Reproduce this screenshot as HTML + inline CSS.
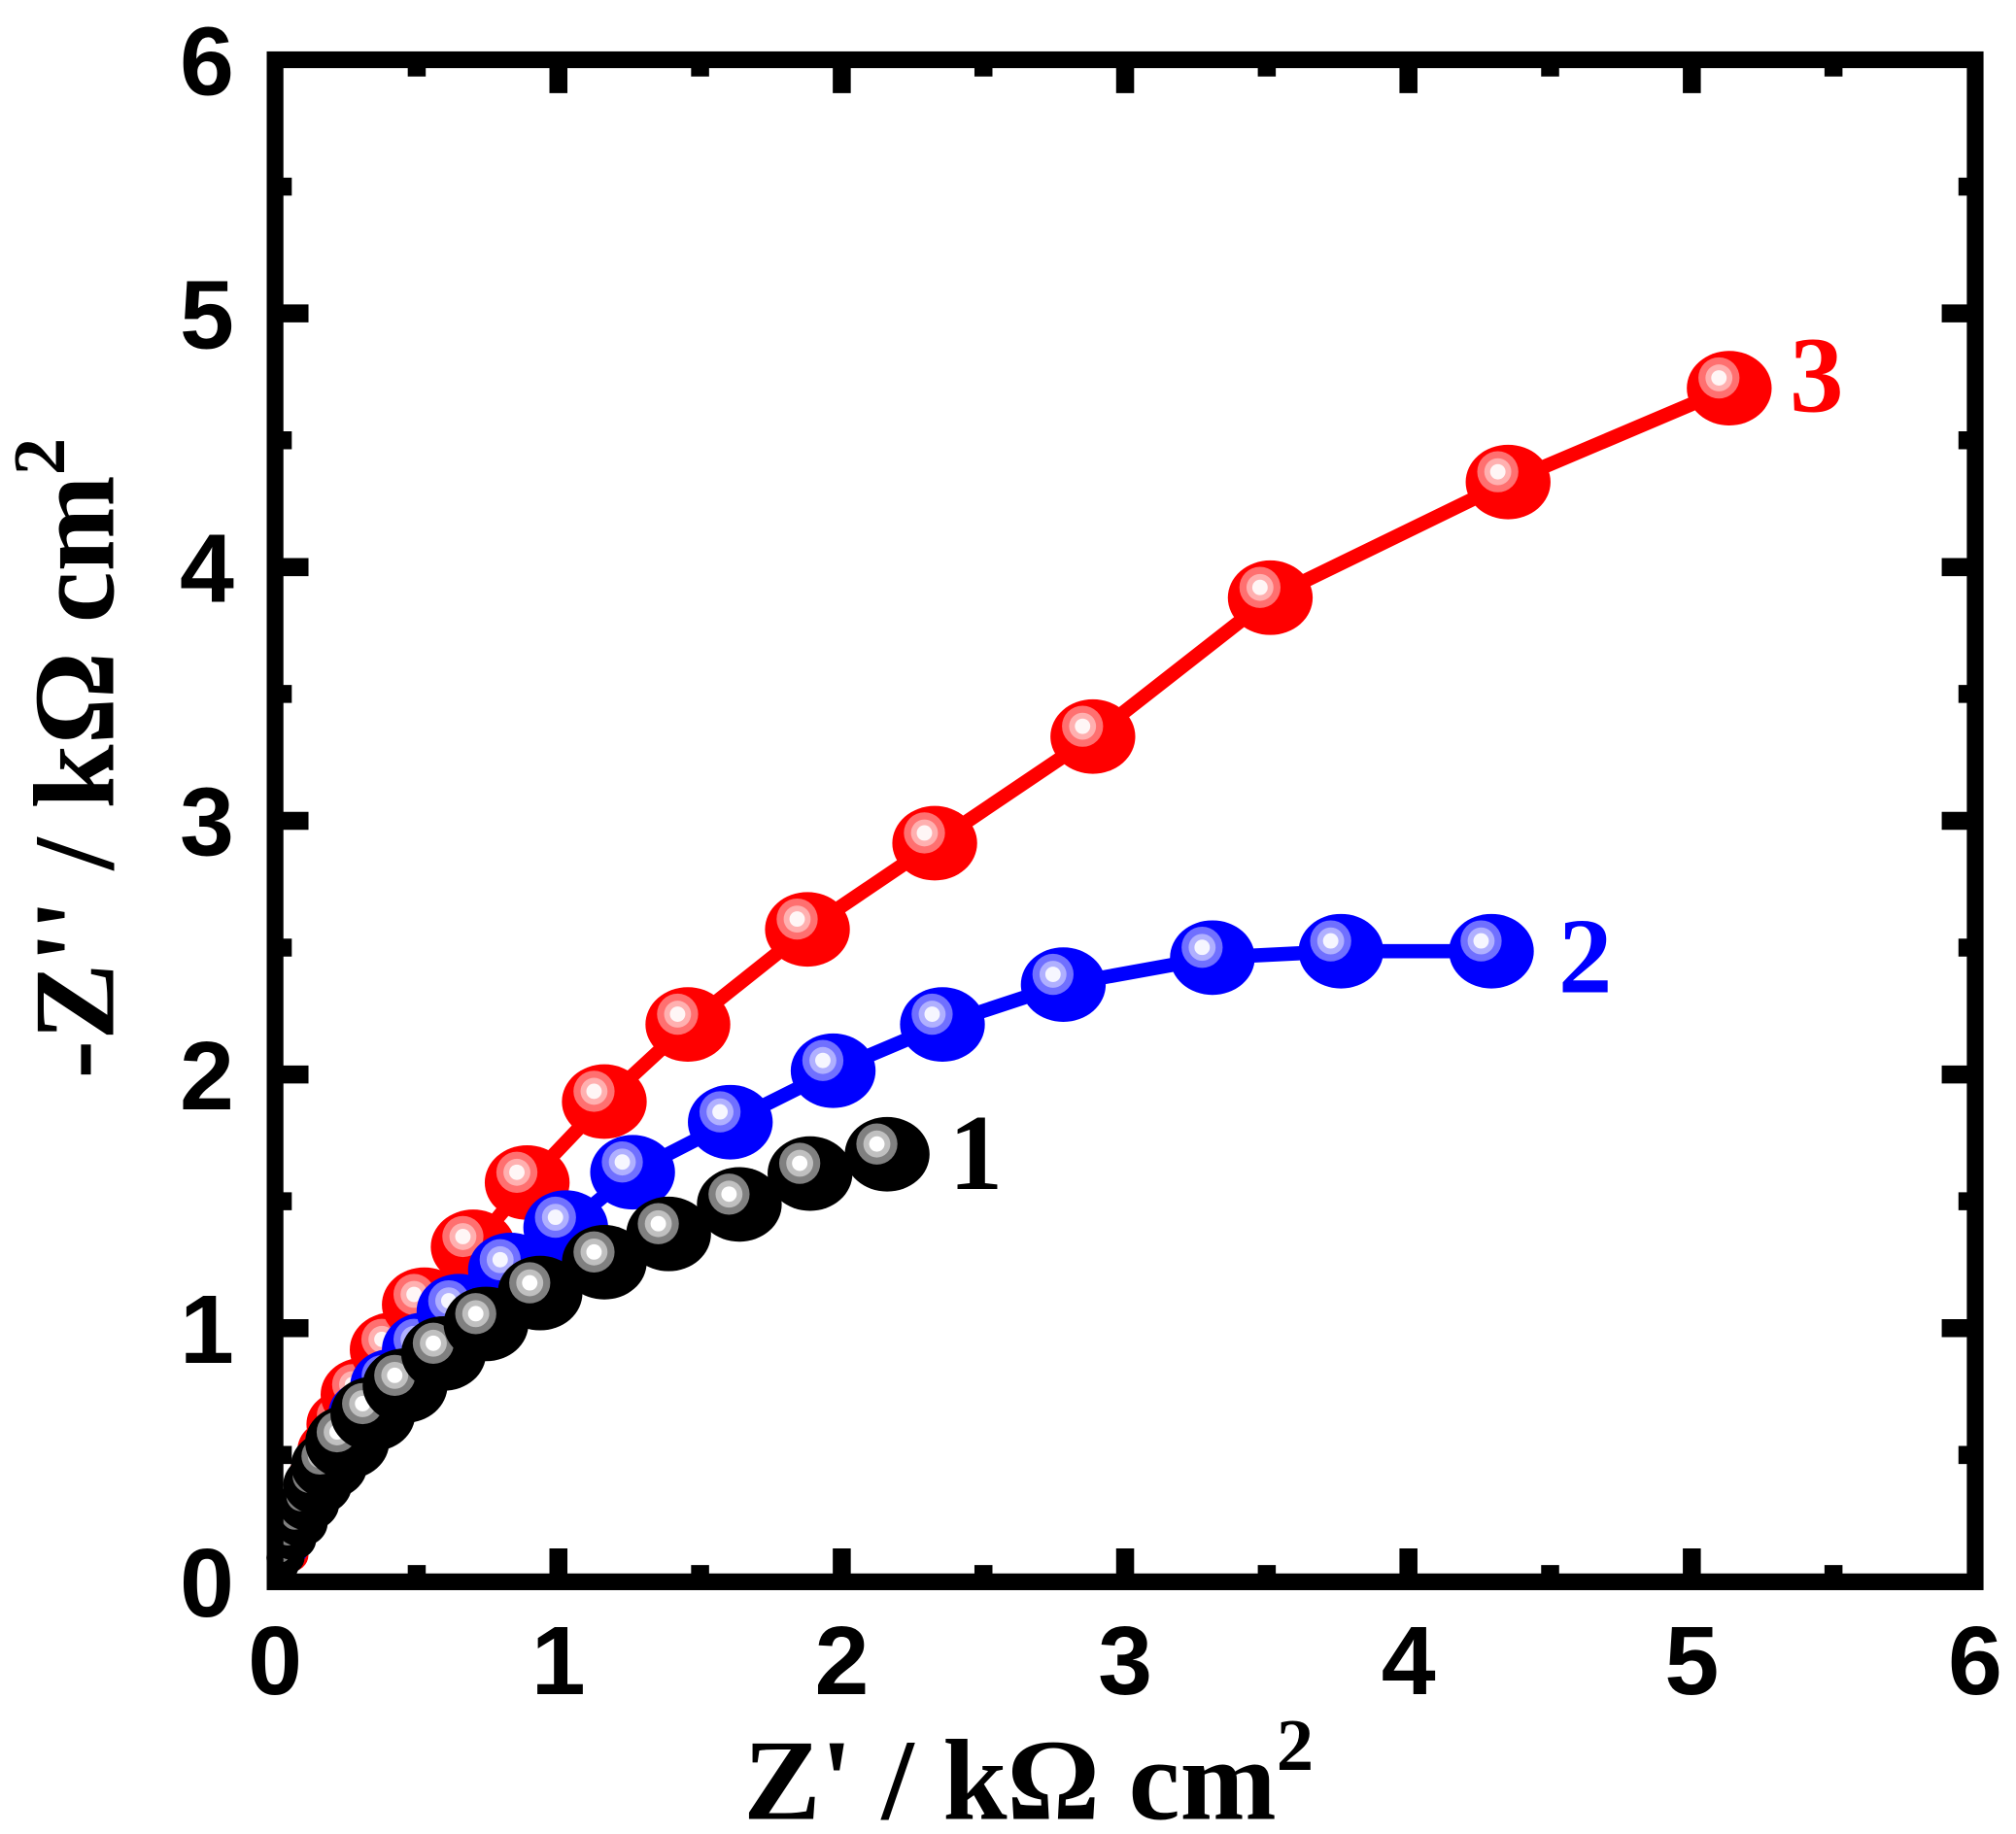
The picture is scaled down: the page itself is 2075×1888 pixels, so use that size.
<!DOCTYPE html>
<html><head><meta charset="utf-8"><style>
html,body{margin:0;padding:0;background:#fff;}
svg{display:block;}
</style></head><body>
<svg id="s" width="2075" height="1888" viewBox="0 0 1568 1426.8" xmlns="http://www.w3.org/2000/svg">
<g id="data"></g>
<g id="frame" fill="none" stroke="#000" stroke-width="13">
<rect x="213.9" y="46.5" width="1322.4" height="1184.1"/>
</g>
<g id="ticks" stroke="#000" stroke-width="14"></g>
<g font-family="Liberation Sans, Arial, sans-serif" font-weight="bold" font-size="76" fill="#000">
<g text-anchor="middle" id="xl"></g>
<g text-anchor="end" id="yl"></g>
</g>
<g font-family="Liberation Serif, Times New Roman, serif" font-weight="bold" fill="#000">
<text x="800" y="1415" font-size="90" text-anchor="middle">Z' / kΩ cm<tspan font-size="58" dy="-38">2</tspan></text>
<text transform="translate(88,590) rotate(-90)" font-size="90" text-anchor="middle">-Z'' / kΩ cm<tspan font-size="58" dy="-38">2</tspan></text>
<text x="1392" y="320" font-size="84" fill="#ff0000">3</text>
<text x="1212" y="772" font-size="84" fill="#0000ff">2</text>
<text x="738" y="925" font-size="84" fill="#000">1</text>
</g>
</svg>
<script>
var NS="http://www.w3.org/2000/svg";
function el(p,t,a){var e=document.createElementNS(NS,t);for(var k in a)e.setAttribute(k,a[k]);p.appendChild(e);return e;}
var L=213.9,R=1536.3,T=46.5,B=1230.6,ux=(R-L)/6,uy=(B-T)/6;
var tk=document.getElementById('ticks'),xl=document.getElementById('xl'),yl=document.getElementById('yl');
for(var i=0;i<=12;i++){
  var len=(i%2==0)?20:7;
  var x=L+i*ux/2,y=B-i*uy/2;
  if(i>0&&i<12){
    el(tk,'line',{x1:x,y1:B,x2:x,y2:B-6-len});
    el(tk,'line',{x1:x,y1:T,x2:x,y2:T+6+len});
    el(tk,'line',{x1:L,y1:y,x2:L+6+len,y2:y});
    el(tk,'line',{x1:R,y1:y,x2:R-6-len,y2:y});
  }
  if(i%2==0){
    var t=el(xl,'text',{x:x,y:1318});t.textContent=i/2;
    var t2=el(yl,'text',{x:182,y:y+27});t2.textContent=i/2;
  }
}
var series=[
 {c:['#ff0000','#ff7070','#ffb0b0','#fff6f6'],p:[[225,1210],[232,1190],[240,1170],[248,1148],[258,1128],[268,1108],[282,1085],[305,1050],[330,1015],[368,970],[410,920],[470,857],[535,797],[628,723],[727,656],[850,573],[988,465],[1173,375],[1345,302]]},
 {c:['#0000ff','#7070ff','#b0b0ff','#f6f6ff'],p:[[225,1205],[235,1180],[245,1160],[255,1140],[268,1120],[285,1100],[305,1078],[330,1050],[357,1020],[397,988],[440,955],[492,912],[568,873],[648,833],[733,797],[827,766],[943,745],[1043,740],[1160,740]]},
 {c:['#000000','#808080','#c0c0c0','#ffffff'],p:[[222,1212],[228,1198],[234,1185],[240,1170],[247,1155],[256,1140],[270,1122],[290,1100],[315,1078],[345,1053],[378,1030],[420,1006],[470,982],[520,960],[575,937],[630,913],[690,898]]}
];
var g=document.getElementById('data');
series.forEach(function(s,si){
  var d=s.p.map(function(q,i){return (i?'L':'M')+q[0]+' '+q[1];}).join(' ');
  el(g,'path',{d:d,fill:'none',stroke:s.c[0],'stroke-width':11,'stroke-linejoin':'round'});
  if(si==2) el(g,'path',{d:'M214 1230 L214 1170 L250 1130 L300 1085 L320 1090 L260 1160 L228 1230 Z',fill:'#000'});
  s.p.forEach(function(q,i){
    var f=Math.min(1,0.45+i*0.09);
    var rx=33*f,ry=29*f,cx=q[0],cy=q[1],ox=cx-8*f,oy=cy-8*f;
    el(g,'ellipse',{cx:cx,cy:cy,rx:rx,ry:ry,fill:s.c[0]});
    el(g,'circle',{cx:ox,cy:oy,r:16*f,fill:s.c[1]});
    el(g,'circle',{cx:ox,cy:oy,r:10.5*f,fill:s.c[2]});
    el(g,'circle',{cx:ox,cy:oy,r:6*f,fill:s.c[3]});
  });
});
</script>
</body></html>
